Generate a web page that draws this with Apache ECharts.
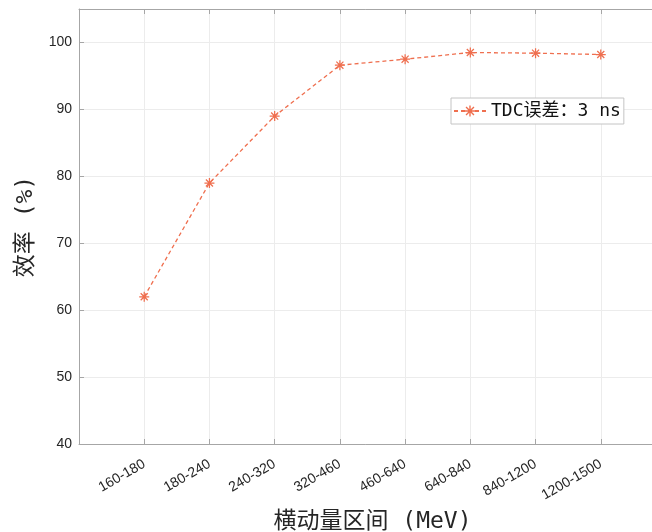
<!DOCTYPE html>
<html>
<head>
<meta charset="utf-8">
<script src="https://cdn.jsdelivr.net/npm/echarts@6/dist/echarts.min.js"></script>
<style>
  html, body { margin: 0; padding: 0; background: #ffffff; }
  #chart { width: 652px; height: 532px; }
</style>
</head>
<body>
<div id="chart"></div>
<script>
// Transverse-momentum bins (MeV) and detection efficiency (%)
const categories = ['160-180', '180-240', '240-320', '320-460', '460-640', '640-840', '840-1200', '1200-1500'];
const efficiency = [62.0, 79.0, 89.0, 96.6, 97.5, 98.5, 98.4, 98.2];
const seriesName = 'TDC误差：3 ns';
const xTitle = '横动量区间 (MeV)';
const yTitle = '效率 (%)';

const lineColor = '#ef6f4f';
const axisColor = '#a6a6a6';
const gridColor = '#ececec';
const textColor = '#262626';
const monoCjk = "'DejaVu Sans Mono', 'Noto Sans CJK SC', sans-serif";
const sansFont = "'Liberation Sans', Arial, sans-serif";

// Asterisk marker: four thin bars (vertical, horizontal, two diagonals)
const asterisk = 'path://' +
  'M-1,-8 L1,-8 L1,8 L-1,8 Z ' +
  'M-8,-1 L8,-1 L8,1 L-8,1 Z ' +
  'M-4.95,-6.36 L6.36,4.95 L4.95,6.36 L-6.36,-4.95 Z ' +
  'M4.95,-6.36 L6.36,-4.95 L-4.95,6.36 L-6.36,4.95 Z';

// Categories sit at positions 1..n on a value axis that spans 0..n+1
const points = efficiency.map((v, i) => [i + 1, v]);
const xMax = categories.length + 1;

const chart = echarts.init(document.getElementById('chart'), null, { renderer: 'canvas' });

const baseX = {
  type: 'value',
  min: 0,
  max: xMax,
  interval: 1,
  axisLine: { show: true, lineStyle: { color: axisColor, width: 1 } },
  axisTick: { show: true, inside: true, length: 5, lineStyle: { color: axisColor } }
};

chart.setOption({
  backgroundColor: '#ffffff',
  animation: false,
  // the plot box runs past the right edge of the canvas
  grid: { left: 79, top: 9, width: 587, bottom: 88, containLabel: false, outerBoundsMode: 'none' },
  legend: {
    left: 451,
    top: 98,
    orient: 'vertical',
    padding: [3, 3, 3, 2],
    backgroundColor: '#ffffff',
    borderColor: '#c4c4c4',
    borderWidth: 1,
    itemWidth: 32,
    itemHeight: 14,
    itemGap: 0,
    textStyle: { fontFamily: monoCjk, fontSize: 18, color: '#111111', lineHeight: 20, padding: [0, 0, 0, 0] },
    data: [seriesName]
  },
  xAxis: [
    Object.assign({}, baseX, {
      position: 'bottom',
      name: xTitle,
      nameLocation: 'middle',
      nameGap: 67,
      nameTextStyle: { fontFamily: monoCjk, fontSize: 23, color: textColor },
      axisLabel: {
        rotate: 30,
        margin: 19,
        fontFamily: sansFont,
        fontSize: 14,
        color: textColor,
        formatter: (v) => (v >= 1 && v <= categories.length ? categories[v - 1] : '')
      },
      splitLine: { show: true, lineStyle: { color: gridColor, width: 1 } }
    }),
    Object.assign({}, baseX, {
      position: 'top',
      axisLabel: { show: false },
      splitLine: { show: false }
    })
  ],
  yAxis: {
    type: 'value',
    min: 40,
    max: 105,
    interval: 10,
    name: yTitle,
    nameLocation: 'middle',
    nameGap: 31,
    nameRotate: 90,
    nameTextStyle: { fontFamily: monoCjk, fontSize: 23, color: textColor },
    axisLine: { show: true, lineStyle: { color: axisColor, width: 1 } },
    axisTick: { show: true, inside: true, length: 5, lineStyle: { color: axisColor } },
    axisLabel: {
      margin: 7,
      fontFamily: sansFont,
      fontSize: 14,
      color: textColor,
      showMaxLabel: false,
      formatter: (v) => (v % 10 === 0 ? String(v) : '')
    },
    splitLine: { show: true, lineStyle: { color: gridColor, width: 1 } }
  },
  series: [{
    name: seriesName,
    type: 'line',
    xAxisIndex: 0,
    data: points,
    symbol: asterisk,
    symbolSize: 10,
    itemStyle: { color: lineColor },
    lineStyle: { color: lineColor, width: 1.3, type: [4, 3] }
  }]
});
</script>
</body>
</html>
